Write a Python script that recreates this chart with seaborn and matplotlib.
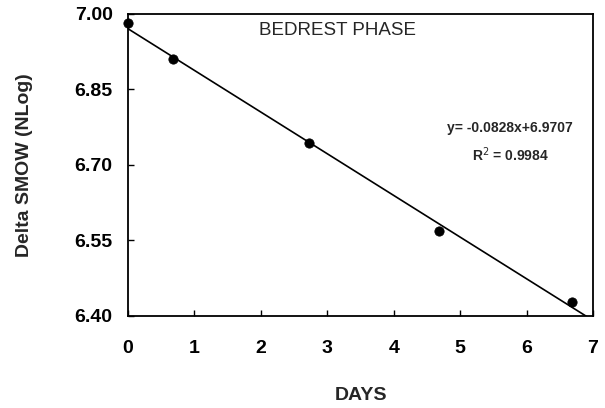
import numpy as np
import pandas as pd
import matplotlib
matplotlib.use("Agg")
import matplotlib.pyplot as plt
import seaborn as sns

# Data
days = [0.0, 0.68, 2.73, 4.68, 6.68]
delta_smow = [6.982, 6.910, 6.743, 6.569, 6.427]

# Regression from the chart annotation
slope = -0.0828
intercept = 6.9707
fit_x = [0.0, 7.0]

x_ticks = [0, 1, 2, 3, 4, 5, 6, 7]
y_ticks = [6.40, 6.55, 6.70, 6.85, 7.00]

sns.set_style("ticks")
plt.rcParams['font.family'] = ['Liberation Sans', 'DejaVu Sans']

df = pd.DataFrame({'days': days, 'smow': delta_smow})
fit = pd.DataFrame({'days': fit_x, 'smow': [slope * x + intercept for x in fit_x]})

fig = plt.figure(figsize=(6.05, 4.08), dpi=100)
ax = fig.add_axes([0.2116, 0.2255, 0.7686, 0.7402])

sns.lineplot(data=fit, x='days', y='smow', color='black', linewidth=1.2, ax=ax)
sns.scatterplot(data=df, x='days', y='smow', color='black', s=45, edgecolor='black',
                zorder=3, clip_on=False, ax=ax)

ax.set_xlim(0, 7)
ax.set_ylim(6.40, 7.00)
ax.set_xticks(x_ticks)
ax.set_yticks(y_ticks)
ax.set_yticklabels([f'{v:.2f}' for v in y_ticks])
ax.tick_params(direction='in', length=4, width=1, colors='black', labelsize=14)
ax.tick_params(axis='x', pad=17)
ax.tick_params(axis='y', pad=11)
for lab in ax.get_xticklabels() + ax.get_yticklabels():
    lab.set_fontweight('bold')
for sp in ax.spines.values():
    sp.set_linewidth(1.3)
    sp.set_color('black')

ax.set_xlabel('DAYS', fontsize=14, fontweight='bold', labelpad=22)
ax.set_ylabel('Delta SMOW (NLog)', fontsize=14, fontweight='bold', labelpad=30)

ax.text(3.16, 6.968, 'BEDREST PHASE', ha='center', va='center', fontsize=13.5)
ax.text(5.75, 6.773, 'y= -0.0828x+6.9707', ha='center', va='center', fontsize=10,
        fontweight='bold')
ax.text(5.75, 6.720, 'R$^2$ = 0.9984', ha='center', va='center', fontsize=10,
        fontweight='bold')

fig.savefig('out.png', dpi=100)
